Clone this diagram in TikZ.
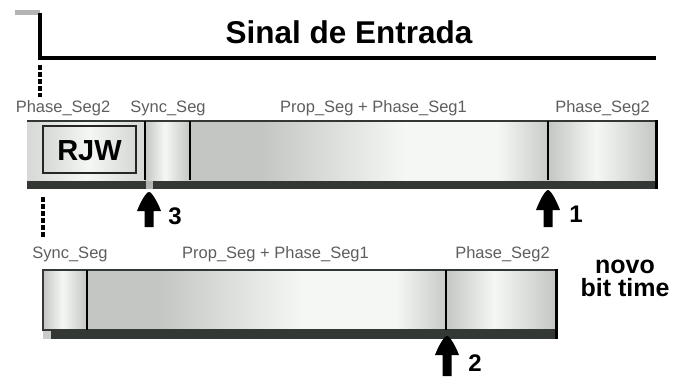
\documentclass[tikz,border=0pt]{standalone}
\usepackage{fontspec}
\setmainfont{Liberation Sans}
\definecolor{cA}{HTML}{C4C6C4}
\definecolor{cB}{HTML}{C8CBC8}
\definecolor{cW}{HTML}{F4F7F4}
\definecolor{cL}{HTML}{D6D8D6}
\definecolor{shad}{HTML}{343834}
\definecolor{lbl}{HTML}{5E5E5E}
\definecolor{stub}{HTML}{B4B4B4}
\pgfdeclarehorizontalshading{cyl}{100bp}{color(0bp)=(cA); color(25bp)=(cA); color(47bp)=(cW); color(75bp)=(cA); color(100bp)=(cA)}
\pgfdeclarehorizontalshading{prop}{100bp}{color(0bp)=(cA); color(25bp)=(cA); color(35bp)=(cA); color(55bp)=(cW); color(68bp)=(cW); color(75bp)=(cB); color(100bp)=(cB)}
\pgfdeclarehorizontalshading{light}{100bp}{color(0bp)=(cA); color(25bp)=(cL); color(50bp)=(cW); color(75bp)=(cL); color(100bp)=(cL)}
\tikzset{
  seglabel/.style={font=\fontsize{16.5}{18}\selectfont, text=lbl, inner sep=0pt, anchor=base},
  numlabel/.style={font=\fontsize{24}{26}\selectfont\bfseries, inner sep=0pt, anchor=base},
  divthin/.style={draw=black, line width=1.3pt},
  divthick/.style={draw=black, line width=2.6pt},
  dashline/.style={draw=black, line width=3.2pt, dash pattern=on 5pt off 2pt},
  shadowband/.style={fill=shad},
}
\newcommand{\upArrowShape}[4]{%
  \fill[black] (#1,#2) .. controls (#1+3,#2) and (#1+9,#3-8) .. (#1+12,#3)
    -- (#1+4.5,#3) -- (#1+4.5,#4) -- (#1-4.5,#4) -- (#1-4.5,#3) -- (#1-12,#3)
    .. controls (#1-9,#3-8) and (#1-3,#2) .. cycle;}
\begin{document}
\begin{tikzpicture}[x=1pt,y=-1pt]
\useasboundingbox (0,0) rectangle (674,376);
% input signal
\draw[stub, line width=4.5pt] (15,12.5) -- (40,12.5);
\coordinate (s0) at (40,12.5);
\coordinate (s1) at (40,58);
\coordinate (s2) at (656,58);
\draw[black, line width=4.5pt, line join=miter] (s0) -- (s1) -- (s2);
\node[font=\fontsize{31.5}{33}\selectfont\bfseries, inner sep=0pt, anchor=base] (title) at (349,43) {Sinal de Entrada};
% dashed markers
\coordinate (d1a) at (40,65); \coordinate (d1b) at (40,97);
\draw[dashline] (d1a) -- (d1b);
\coordinate (d2a) at (43,197); \coordinate (d2b) at (43,238);
\draw[dashline] (d2a) -- (d2b);
% top bar
\fill[shadowband] (27,180) rectangle (146,189);
\fill[stub] (146,180) rectangle (153,189);
\fill[shadowband] (153,180) rectangle (658,189);
\shade[shading=light] (27,121) rectangle (145,180);
\shade[shading=cyl] (145,121) rectangle (190,180);
\shade[shading=prop] (190,121) rectangle (548,180);
\shade[shading=cyl] (548,121) rectangle (657,180);
\draw[shad, line width=1.3pt] (27,121) -- (657,121);
\draw[divthick] (145,121) -- (145,180);
\draw[divthin] (190,121) -- (190,180);
\draw[divthin] (548,121) -- (548,180);
\draw[black, line width=3pt] (656.5,120.4) -- (656.5,189);
\shade[shading=light, draw=black!85, line width=1.6pt] (43,126) rectangle (136,173);
\node[font=\fontsize{29}{30}\selectfont\bfseries, inner sep=0pt, anchor=base] (rjw) at (89.5,160) {RJW};
% top labels
\node[seglabel] (t1) at (63,112) {Phase\_Seg2};
\node[seglabel] (t2) at (168,112) {Sync\_Seg};
\node[seglabel] (t3) at (373.5,112) {Prop\_Seg + Phase\_Seg1};
\node[seglabel] (t4) at (602.5,112) {Phase\_Seg2};
% arrows top
\upArrowShape{149}{192}{211}{227}
\node[numlabel] (n3) at (175,224) {3};
\upArrowShape{548}{190}{210}{227}
\node[numlabel] (n1) at (576,222) {1};
% bottom labels
\node[seglabel] (b1) at (70,258) {Sync\_Seg};
\node[seglabel] (b2) at (275.5,258) {Prop\_Seg + Phase\_Seg1};
\node[seglabel] (b3) at (502.5,258) {Phase\_Seg2};
% bottom bar
\fill[stub!70] (43,330) rectangle (51,339);
\fill[shadowband] (51,330) rectangle (557.5,339);
\shade[shading=cyl] (43,270) rectangle (87,330);
\shade[shading=prop] (87,270) rectangle (446,330);
\shade[shading=cyl] (446,270) rectangle (556,330);
\draw[shad, line width=1.3pt] (43,270) rectangle (556,330);
\draw[divthin] (87,270) -- (87,330);
\draw[divthin] (446,270) -- (446,330);
\draw[black, line width=3pt] (556,269.4) -- (556,339);
\upArrowShape{447}{336}{355}{376}
\node[numlabel] (n2) at (475,371) {2};
\node[font=\fontsize{25}{23}\selectfont\bfseries, inner sep=0pt, align=center, anchor=base] (novo) at (625,296) {novo\\bit time};
\end{tikzpicture}
\end{document}
